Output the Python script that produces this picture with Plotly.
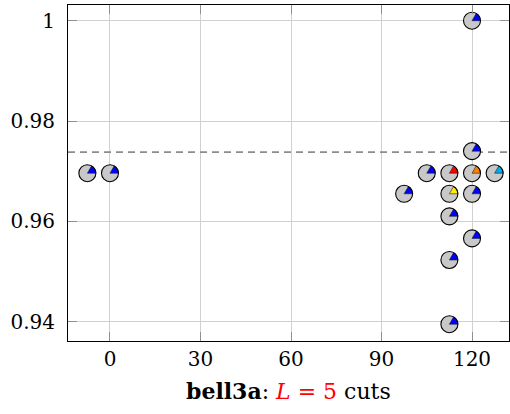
import numpy as np
import plotly.graph_objects as go

# ---- data ----
x_vals = [-7.5, 0, 97.5, 105, 112.5, 120, 127.5, 120, 120, 112.5, 120, 112.5, 120, 112.5, 112.5]
y_vals = [0.9696, 0.9696, 0.9655, 0.9696, 0.9696, 0.9696, 0.9696, 0.974, 1.0,
          0.9655, 0.9655, 0.961, 0.9566, 0.9523, 0.9395]
wedge_colors = ["#0000ff", "#0000ff", "#0000ff", "#0000ff", "#ff0000", "#ff8000", "#00aaee",
                "#0000ff", "#0000ff", "#ffee00", "#0000ff", "#0000ff", "#0000ff", "#0000ff", "#0000ff"]
ref_value = 0.9738
x_ticks = [0, 30, 60, 90, 120]
y_ticks = [0.94, 0.96, 0.98, 1.0]
y_ticktext = ["0.94", "0.96", "0.98", "1"]

# ---- layout geometry ----
W, H = 510, 414
ml, mr, mt, mb = 68, 1, 5, 73
pw, ph = W - ml - mr, H - mt - mb
x_range = [-13.92, 132.26]
y_range = [0.93615, 1.00313]
ppx = pw / (x_range[1] - x_range[0])
ppy = ph / (y_range[1] - y_range[0])

FONT = "DejaVu Serif"
FS = 20
fig = go.Figure()

# dashed reference line
fig.add_trace(go.Scatter(x=x_range, y=[ref_value, ref_value], mode="lines",
                         line=dict(color="#8c8c8c", width=1.6, dash="7px,5px"),
                         hoverinfo="skip", showlegend=False))

# grey circles
fig.add_trace(go.Scatter(x=x_vals, y=y_vals, mode="markers",
                         marker=dict(size=17, color="#c8c8c8", line=dict(width=0)),
                         showlegend=False, cliponaxis=False))

# pie wedges (0 to 60 degrees), grouped by colour
r_px = 8.5
angles = np.linspace(0, np.pi / 3, 16)
for col in dict.fromkeys(wedge_colors):
    wx, wy = [], []
    for xv, yv, c in zip(x_vals, y_vals, wedge_colors):
        if c != col:
            continue
        wx += [xv] + [xv + r_px * np.cos(a) / ppx for a in angles] + [xv, None]
        wy += [yv] + [yv + r_px * np.sin(a) / ppy for a in angles] + [yv, None]
    fig.add_trace(go.Scatter(x=wx, y=wy, mode="lines", fill="toself", fillcolor=col,
                             line=dict(color="#202020", width=0.6),
                             hoverinfo="skip", showlegend=False, cliponaxis=False))

# circle outlines on top
fig.add_trace(go.Scatter(x=x_vals, y=y_vals, mode="markers",
                         marker=dict(size=17, color="rgba(0,0,0,0)", line=dict(color="black", width=1.1)),
                         showlegend=False, cliponaxis=False))

fig.update_layout(
    width=W, height=H,
    margin=dict(l=ml, r=mr, t=mt, b=mb, autoexpand=False),
    paper_bgcolor="white", plot_bgcolor="white",
    font=dict(family=FONT, size=FS, color="black"),
    xaxis=dict(range=x_range, tickvals=x_ticks, ticktext=[str(v) for v in x_ticks],
               showgrid=True, gridcolor="#d0d0d0", gridwidth=1, zeroline=False,
               showline=True, linecolor="black", linewidth=1, mirror="ticks",
               ticks="inside", ticklen=9, tickcolor="#909090", tickwidth=1,
               ticklabelstandoff=0),
    yaxis=dict(range=y_range, tickvals=y_ticks, ticktext=y_ticktext,
               showgrid=True, gridcolor="#d0d0d0", gridwidth=1, zeroline=False,
               showline=True, linecolor="black", linewidth=1, mirror="ticks",
               ticks="inside", ticklen=9, tickcolor="#909090", tickwidth=1,
               ticklabelstandoff=8),
    annotations=[dict(xref="paper", yref="paper", x=0.5, y=-(391 - (mt + ph)) / ph,
                      xanchor="center", yanchor="middle", showarrow=False,
                      text="<b>bell3a</b>: <span style='color:#ff0000'><i>L</i> = 5</span> cuts",
                      font=dict(family=FONT, size=22, color="black"))],
)

fig.write_html("out.html")
